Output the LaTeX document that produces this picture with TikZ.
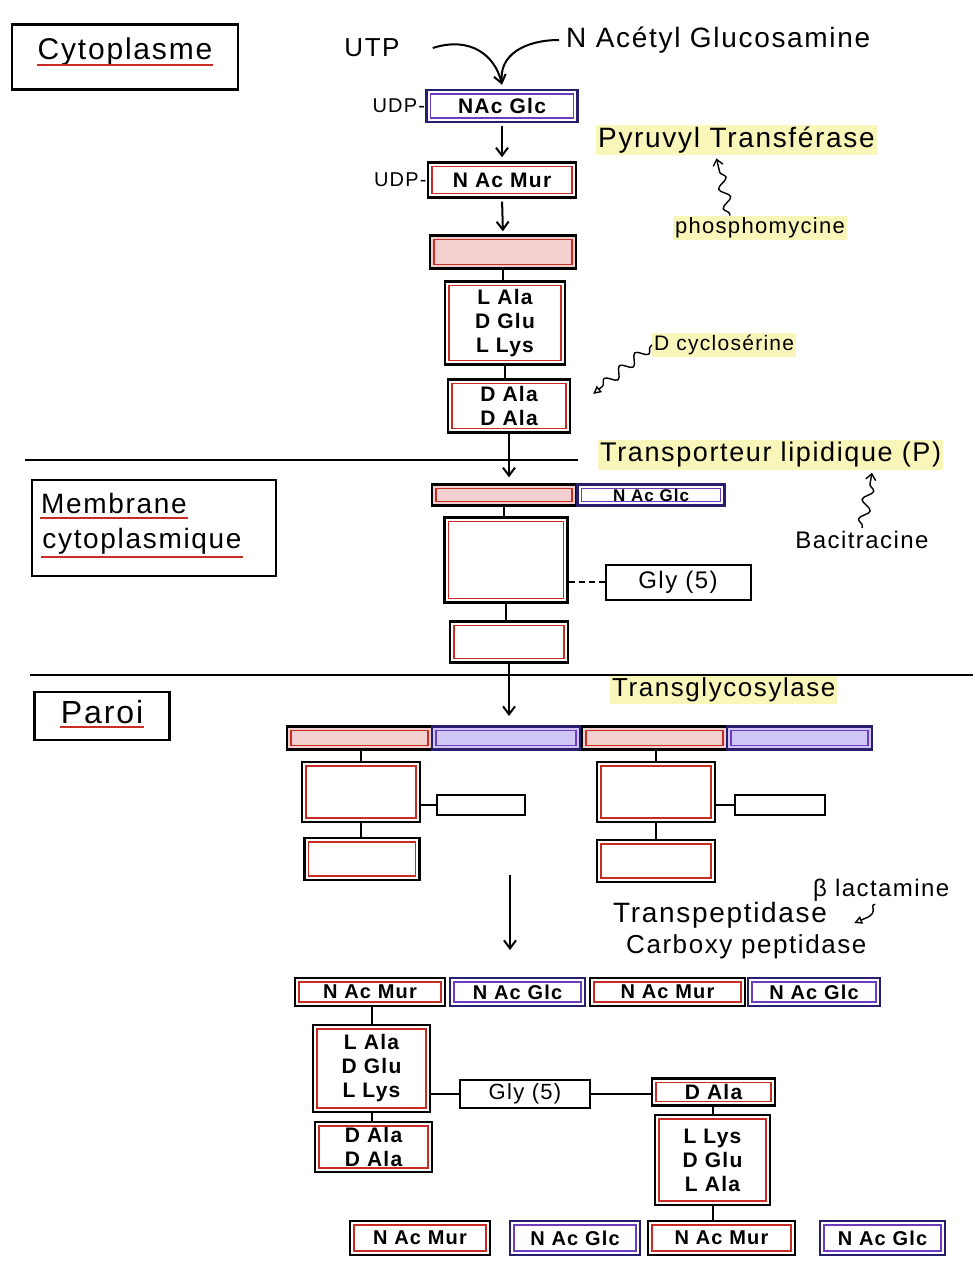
\documentclass[tikz,border=0pt]{standalone}
\usepackage{fontspec}
\setmainfont{Liberation Sans}
\newfontfamily\hand[LetterSpace=6]{Liberation Sans}
\newcommand\fsz[2]{\fontsize{#1}{#2}\selectfont}
\usetikzlibrary{arrows.meta,decorations.pathmorphing}
\definecolor{pinkfill}{RGB}{245,208,208}
\definecolor{navy}{RGB}{40,30,110}
\definecolor{purp}{RGB}{110,60,190}
\definecolor{lav}{RGB}{208,198,245}
\definecolor{hly}{RGB}{248,246,185}
\definecolor{inred}{RGB}{200,45,35}
\begin{document}
\begin{tikzpicture}[x=1pt,y=-1pt,
  box/.style={draw=black, line width=2.4pt, inner sep=1pt, align=center, font=\hand\bfseries\fsz{21}{24}},
  redbox/.style={box, fill=white, path picture={\draw[inred, line width=1.8pt] ([shift={(4pt,4pt)}]path picture bounding box.south west) rectangle ([shift={(-4pt,-4pt)}]path picture bounding box.north east);}},
  pinkbox/.style={redbox, fill=pinkfill},
  bluebox/.style={box, draw=navy, fill=white, path picture={\draw[purp, line width=1.8pt] ([shift={(4pt,4pt)}]path picture bounding box.south west) rectangle ([shift={(-4pt,-4pt)}]path picture bounding box.north east);}},
  lavbox/.style={bluebox, fill=lav},
  plainbox/.style={box, line width=2pt, font=\hand\fsz{21}{24}},
  link/.style={line width=2pt},
  arr/.style={line width=2pt, -{Straight Barb[length=8pt,width=12pt]}},
  squig/.style={line width=1.4pt, decorate, decoration={snake, amplitude=5pt, segment length=20pt, pre length=2pt, post length=7pt}},
  lbl/.style={inner sep=1pt, font=\hand\fsz{#1}{#1}},
  lbl/.default=22,
  hl/.style={lbl=#1, fill=hly, inner sep=2pt},
  hl/.default=22,
  sect/.style={draw=black, line width=2.6pt},
  uline/.style={inred, line width=2pt},
  sep/.style={line width=2.2pt}]
\useasboundingbox (0,0) rectangle (973,1263);
\fill[white] (0,0) rectangle (973,1263);

% ---- section labels
\node[sect, minimum width=226, minimum height=65] (cyto) at (125,57) {};
\node[lbl=30] (cytot) at (125,52) {Cytoplasme};
\draw[uline] ([yshift=-5pt]cytot.base west) -- ([yshift=-5pt]cytot.base east);

\node[sect, minimum width=244, minimum height=96] (memb) at (154,528) {};
\node[lbl=28] (memb1) at (114,503) {Membrane};
\node[lbl=28] (memb2) at (142,541) {cytoplasmique};
\draw[uline] ([yshift=-5pt]memb1.base west) -- ([yshift=-5pt]memb1.base east);
\draw[uline] ([yshift=-9pt]memb2.base west) -- ([yshift=-9pt]memb2.base east);

\node[sect, minimum width=135, minimum height=48] (paroi) at (102,716) {};
\node[lbl=32] (paroit) at (102,712) {Paroi};
\draw[uline] ([yshift=-4pt]paroit.base west) -- ([yshift=-4pt]paroit.base east);

% ---- separators
\coordinate (s1a) at (25,460); \coordinate (s1b) at (578,460);
\draw[sep] (s1a) -- (s1b);
\coordinate (s2a) at (30,675); \coordinate (s2b) at (973,675);
\draw[sep] (s2a) -- (s2b);

% ---- cytoplasm
\node[lbl=26] (utp) at (372,48) {UTP};
\node[lbl=28, anchor=west] (nag) at (565,40) {N Acétyl Glucosamine};
\node[bluebox, minimum width=151, minimum height=32] (glc) at (502,106) {NAc Glc};
\node[lbl=20, anchor=east, inner sep=0pt] (udp1) at (glc.west) {UDP-};
\draw[arr] ([xshift=32pt]utp.east) .. controls (470,36) and (495,55) .. ([yshift=4pt]glc.north);
\draw[link] ([xshift=-6pt]nag.west) .. controls (525,40) and (498,55) .. ([yshift=6pt]glc.north);

\node[redbox, minimum width=148, minimum height=35] (mur) at (502,180) {N Ac Mur};
\node[lbl=20, anchor=east, inner sep=0pt] (udp2) at (mur.west) {UDP-};
\draw[arr, shorten <=3pt, shorten >=4pt] (glc.south) -- (mur.north);

\node[pinkbox, minimum width=146, minimum height=33] (e1) at (503,252) {};
\draw[arr, shorten <=3pt, shorten >=3pt] (mur.south) -- (e1.north);

\node[redbox, minimum width=120, minimum height=83] (pep1) at (505,323) {L Ala\\D Glu\\L Lys};
\draw[link] (e1.south) -- (e1.south |- pep1.north);
\node[redbox, minimum width=122, minimum height=53] (dd1) at (509,406) {D Ala\\D Ala};
\draw[link] (pep1.south) -- (pep1.south |- dd1.north);

\node[hl=28, anchor=west] (pyr) at (596,140) {Pyruvyl Transférase};
\node[hl=22] (phos) at (760,228) {phosphomycine};
\draw[squig, -{Straight Barb[length=6pt,width=10pt]}] ([xshift=-30pt]phos.north) -- ([xshift=-20pt,yshift=-3pt]pyr.south);

\node[hl=21, anchor=west] (dcyc) at (652,345) {D cyclosérine};
\draw[squig, -{Triangle[open,length=8pt,width=8pt]}] (dcyc.west) -- ([shift={(22pt,12pt)}]dd1.east);

% ---- membrane
\node[pinkbox, minimum width=144, minimum height=21] (lip) at (504,495) {};
\node[bluebox, minimum width=147, minimum height=21, font=\hand\bfseries\fsz{17}{17}] (lipg) at (651,495) {N Ac Glc};
\draw[arr, shorten >=6pt] (dd1.south) -- (dd1.south |- lip.north);

\node[hl=27, anchor=west] (trans) at (598,455) {Transporteur lipidique (P)};
\node[lbl=24] (bac) at (862,540) {Bacitracine};
\draw[squig, -{Straight Barb[length=6pt,width=10pt]}] ([yshift=2pt]bac.north) -- ([xshift=10pt,yshift=-3pt]bac.north |- trans.south);

\node[redbox, minimum width=123, minimum height=85] (mbig) at (506,560) {};
\draw[link] (lip.south) -- (lip.south |- mbig.north);
\node[redbox, minimum width=118, minimum height=41] (msm) at (509,642) {};
\draw[link] (mbig.south) -- (mbig.south |- msm.north);
\node[plainbox, minimum width=145, minimum height=35, font=\hand\fsz{24}{24}] (gly1) at (678,582) {Gly (5)};
\draw[link, dash pattern=on 6pt off 4pt] (mbig.east |- gly1.west) -- (gly1.west);

\coordinate (a2) at (509,716);
\draw[arr] (msm.south) -- (a2);

% ---- wall
\node[hl=26, anchor=west] (tgl) at (610,690) {Transglycosylase};

\node[pinkbox, minimum width=145, minimum height=23] (c1) at (359.5,738) {};
\node[lavbox, minimum width=148, minimum height=23] (c2) at (506,738) {};
\node[pinkbox, minimum width=145, minimum height=23] (c3) at (654.5,738) {};
\node[lavbox, minimum width=145, minimum height=23] (c4) at (799.5,738) {};

\node[redbox, minimum width=118, minimum height=60] (pa) at (361,792) {};
\node[redbox, minimum width=115, minimum height=42] (pb) at (362,859) {};
\node[plainbox, minimum width=88, minimum height=20] (sa) at (481,805) {};
\draw[link] (pa.north |- c1.south) -- (pa.north);
\draw[link] (pa.south) -- (pa.south |- pb.north);
\draw[link] (pa.east |- sa.west) -- (sa.west);

\node[redbox, minimum width=118, minimum height=60] (pc) at (656,792) {};
\node[redbox, minimum width=118, minimum height=42] (pd) at (656,861) {};
\node[plainbox, minimum width=90, minimum height=20] (sb) at (780,805) {};
\draw[link] (pc.north |- c3.south) -- (pc.north);
\draw[link] (pc.south) -- (pc.south |- pd.north);
\draw[link] (pc.east |- sb.west) -- (sb.west);

\coordinate (l1) at (510,875); \coordinate (l2) at (510,950);
\draw[arr] (l1) -- (l2);

\node[lbl=24, anchor=west] (blac) at (812,890) {β lactamine};
\node[lbl=28, anchor=west] (tp) at (612,915) {Transpeptidase};
\node[lbl=26, anchor=west] (cp) at (625,947) {Carboxy peptidase};
\draw[line width=1.4pt, -{Triangle[open,length=8pt,width=8pt]}] ([xshift=-6pt,yshift=-2pt]blac.south) .. controls (868,905) and (880,912) .. (866,918) -- ([shift={(26pt,-8pt)}]tp.east);

% ---- cross-linked peptidoglycan
\node[redbox, minimum width=150, minimum height=28, font=\hand\bfseries\fsz{20}{22}] (r1) at (370,992) {N Ac Mur};
\node[bluebox, minimum width=135, minimum height=28, font=\hand\bfseries\fsz{20}{22}] (r2) at (517.5,992) {N Ac Glc};
\node[redbox, minimum width=155, minimum height=28, font=\hand\bfseries\fsz{20}{22}] (r3) at (667.5,992) {N Ac Mur};
\node[bluebox, minimum width=132, minimum height=28, font=\hand\bfseries\fsz{20}{22}] (r4) at (814,992) {N Ac Glc};

\node[redbox, minimum width=117, minimum height=87] (lp) at (371.5,1068.5) {L Ala\\D Glu\\L Lys};
\node[redbox, minimum width=117, minimum height=50] (ld) at (373.5,1147) {D Ala\\D Ala};
\draw[link] (lp.north |- r1.south) -- (lp.north);
\draw[link] (lp.south) -- (lp.south |- ld.north);

\node[plainbox, minimum width=130, minimum height=28, font=\hand\fsz{22}{22}] (gly2) at (525,1094) {Gly (5)};
\draw[link] (lp.east |- gly2.west) -- (gly2.west);
\node[redbox, minimum width=123, minimum height=27] (rda) at (713.5,1092) {D Ala};
\draw[link] (gly2.east) -- (gly2.east -| rda.west);
\node[redbox, minimum width=115, minimum height=90] (rp) at (712.5,1160) {L Lys\\D Glu\\L Ala};
\draw[link] (rda.south -| rp.north) -- (rp.north);

\node[redbox, minimum width=140, minimum height=34, font=\hand\bfseries\fsz{20}{22}] (q1) at (420,1238) {N Ac Mur};
\node[bluebox, minimum width=130, minimum height=34, font=\hand\bfseries\fsz{20}{22}] (q2) at (575,1238) {N Ac Glc};
\node[redbox, minimum width=147, minimum height=34, font=\hand\bfseries\fsz{20}{22}] (q3) at (721.5,1238) {N Ac Mur};
\node[bluebox, minimum width=125, minimum height=34, font=\hand\bfseries\fsz{20}{22}] (q4) at (882.5,1238) {N Ac Glc};
\draw[link] (rp.south) -- (rp.south |- q3.north);
\end{tikzpicture}
\end{document}
